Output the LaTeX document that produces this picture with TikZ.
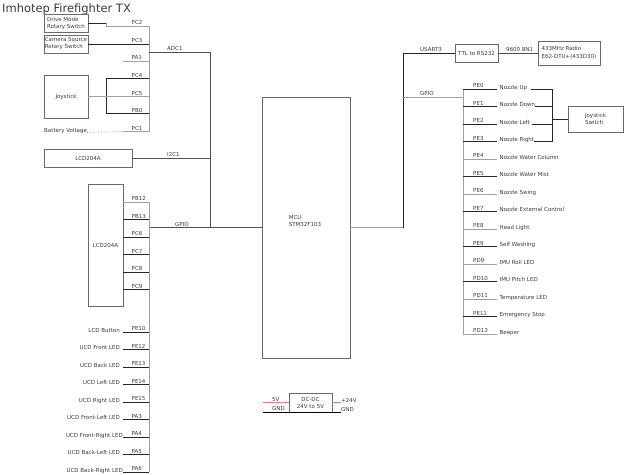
\documentclass[tikz,border=0pt]{standalone}
\usepackage{fontspec}
\setmainfont{DejaVu Sans}
\definecolor{txtgray}{HTML}{3A3A3A}
\definecolor{linegray}{HTML}{A0A0A0}
\definecolor{darkline}{HTML}{505050}
\definecolor{boxline}{HTML}{6A6A6A}
\definecolor{pwrred}{HTML}{E37B7B}

\begin{document}
\begin{tikzpicture}[x=1pt,y=-1pt,
    every node/.style={text=txtgray,font=\fontsize{5.5}{7}\selectfont,inner sep=0pt},
    blk/.style={draw=boxline,line width=0.8pt},
    wire/.style={draw=black!85,line width=0.8pt},
    gwire/.style={draw=linegray,line width=1pt},
    dwire/.style={draw=darkline,line width=0.9pt},
    pinname/.style={anchor=base west},
    sig/.style={anchor=base west},
    desc/.style={anchor=base east}]
  \useasboundingbox (0,0) rectangle (639,474);
  \node[anchor=base west,font=\fontsize{11.5}{13}\selectfont] (title) at (2,12.5) {Imhotep Firefighter TX};

  \node[blk,minimum width=44,minimum height=18,align=left] (drive) at (66,23) {Drive Mode\\Rotary Switch};
  \node[blk,minimum width=44,minimum height=18,align=left] (camera) at (66,44) {Camera Source\\Rotary Switch};
  \node[blk,minimum width=44,minimum height=43] (joy) at (66,96.5) {Joystick};
  \node[anchor=base west] (batt) at (44,132.5) {Battery Voltage};
  \coordinate (lbA) at (149,26);
  \coordinate (lbB) at (149,131.5);
  \draw[gwire] (lbA) -- (lbB);
  \draw[wire] (drive.east) -- (106,23);
  \draw[gwire] (106,23) -- (106,26) -- (lbA);
  \draw[wire] (88,44) -- (camera.east -| lbA);
  \draw[gwire] (123,61) -- (149,61);
  \draw[wire] (149,78.5) -- (106,78.5) -- (106,113.5) -- (149,113.5);
  \draw[gwire] (joy.east) -- (joy.east -| lbA);
  \draw[linegray,line width=0.8pt,dotted] (batt.base east) -- (123,131.5);
  \draw[gwire] (123,131.5) -- (lbB);
  \node[pinname] at (131.5,24.7) {PC2};
  \node[pinname] at (131.5,42.2) {PC3};
  \node[pinname] at (131.5,59.7) {PA1};
  \node[pinname] at (131.5,77.2) {PC4};
  \node[pinname] at (131.5,95.2) {PC5};
  \node[pinname] at (131.5,112.2) {PB0};
  \node[pinname] at (131.5,130.2) {PC1};

  \coordinate (adc) at (210,52);
  \draw[dwire] (149,52) -- (adc) -- (210,227.5);
  \node[sig] at (167,50.7) {ADC1};
  \node[blk,minimum width=88,minimum height=18] (lcdtop) at (88,158) {LCD204A};
  \draw[dwire] (lcdtop.east) -- (lcdtop.east -| adc);
  \node[sig] at (167,156.5) {I2C1};

  \node[blk,minimum width=88,minimum height=261] (mcu) at (306,227.5) {};
  \node[align=left] (mculbl) at (305,221) {MCU\\STM32F103};
  \draw[dwire] (149,227.5) -- (mcu.west);
  \node[sig] at (175,226) {GPIO};

  \node[blk,minimum width=35,minimum height=122] (lcdside) at (105.5,245) {LCD204A};
  \coordinate (lbC) at (149,202);
  \coordinate (lbD) at (149,472);
  \draw[gwire] (lbC) -- (lbD);
  \draw[gwire] (lcdside.east |- lbC) -- (lbC);
  \draw[wire] (123,219.5) -- (149,219.5);
  \draw[wire] (123,237) -- (149,237);
  \draw[wire] (123,254.5) -- (149,254.5);
  \draw[wire] (123,272) -- (149,272);
  \draw[wire] (123,289.5) -- (149,289.5);
  \node[pinname] at (131.5,200.7) {PB12};
  \node[pinname] at (131.5,218.2) {PB13};
  \node[pinname] at (131.5,235.7) {PC6};
  \node[pinname] at (131.5,253.2) {PC7};
  \node[pinname] at (131.5,270.7) {PC8};
  \node[pinname] at (131.5,288.2) {PC9};

  \draw[wire] (123,332) -- (149,332);
  \draw[wire] (123,349.5) -- (149,349.5);
  \draw[wire] (123,367) -- (149,367);
  \draw[wire] (123,384.5) -- (149,384.5);
  \draw[wire] (123,402) -- (149,402);
  \draw[wire] (123,419.5) -- (149,419.5);
  \draw[wire] (123,437) -- (149,437);
  \draw[wire] (123,454.5) -- (149,454.5);
  \draw[wire] (123,472) -- (lbD);
  \node[pinname] at (131.5,330.7) {PE10};
  \node[pinname] at (131.5,348.2) {PE12};
  \node[pinname] at (131.5,365.7) {PE13};
  \node[pinname] at (131.5,383.2) {PE14};
  \node[pinname] at (131.5,400.7) {PE15};
  \node[pinname] at (131.5,418.2) {PA3};
  \node[pinname] at (131.5,435.7) {PA4};
  \node[pinname] at (131.5,453.2) {PA5};
  \node[pinname] at (131.5,470.7) {PA6};
  \node[desc] at (120,332.3) {LCD Button};
  \node[desc] at (120,349.8) {UCD Front LED};
  \node[desc] at (120,367.3) {UCD Back LED};
  \node[desc] at (120,384.8) {UCD Left LED};
  \node[desc] at (120,402.3) {UCD Right LED};
  \node[desc] at (120,419.8) {UCD Front-Left LED};
  \node[desc] at (123,437.3) {UCD Front-Right LED};
  \node[desc] at (120,454.8) {UCD Back-Left LED};
  \node[desc] at (123,472.3) {UCD Back-Right LED};

  \node[blk,minimum width=43,minimum height=18] (ttl) at (476.5,53) {TTL to RS232};
  \node[blk,minimum width=62,minimum height=24,align=left,font=\fontsize{5.5}{8}\selectfont] (radio) at (569,53) {433MHz Radio\\E62-DTU+(433D30)};
  \coordinate (rjA) at (403,53);
  \draw[gwire] (mcu.east) -- (403,227.5);
  \draw[wire] (403,227.5) -- (rjA) -- (ttl.west);
  \node[sig] at (420,51.5) {USART3};
  \draw[dwire] (ttl.east) -- (radio.west);
  \node[sig] at (506,51) {9600 8N1};
  \draw[gwire] (403,97) -- (463,97);
  \node[sig] at (420,95) {GPIO};

  \coordinate (rbA) at (463,89);
  \coordinate (rbB) at (463,334);
  \draw[gwire] (rbA) -- (rbB);
  \draw[wire] (rbA) -- (497,89);
  \draw[wire] (463,106.5) -- (497,106.5);
  \draw[wire] (463,124) -- (497,124);
  \draw[wire] (463,141.5) -- (497,141.5);
  \draw[gwire] (463,159) -- (497,159);
  \draw[wire] (463,176.5) -- (497,176.5);
  \draw[gwire] (463,194) -- (497,194);
  \draw[wire] (463,211.5) -- (497,211.5);
  \draw[gwire] (463,229) -- (497,229);
  \draw[wire] (463,246.5) -- (497,246.5);
  \draw[gwire] (463,264) -- (497,264);
  \draw[wire] (463,281.5) -- (497,281.5);
  \draw[gwire] (463,299) -- (497,299);
  \draw[wire] (463,316.5) -- (497,316.5);
  \draw[gwire] (rbB) -- (497,334);
  \node[pinname] at (473,87.7) {PE0};
  \node[pinname] at (473,105.2) {PE1};
  \node[pinname] at (473,122.7) {PE2};
  \node[pinname] at (473,140.2) {PE3};
  \node[pinname] at (473,157.7) {PE4};
  \node[pinname] at (473,175.2) {PE5};
  \node[pinname] at (473,192.7) {PE6};
  \node[pinname] at (473,210.2) {PE7};
  \node[pinname] at (473,227.7) {PE8};
  \node[pinname] at (473,245.2) {PE9};
  \node[pinname] at (473,262.7) {PD9};
  \node[pinname] at (473,280.2) {PD10};
  \node[pinname] at (473,297.7) {PD11};
  \node[pinname] at (473,315.2) {PE11};
  \node[pinname] at (473,332.7) {PD13};
  \node[sig] (nzup) at (499.5,89.3) {Nozzle Up};
  \node[sig] (nzdn) at (499.5,106.8) {Nozzle Down};
  \node[sig] (nzlt) at (499.5,124.3) {Nozzle Left};
  \node[sig] (nzrt) at (499.5,141.8) {Nozzle Right};
  \node[sig] at (499.5,159.3) {Nozzle Water Column};
  \node[sig] at (499.5,176.8) {Nozzle Water Mist};
  \node[sig] at (499.5,194.3) {Nozzle Swing};
  \node[sig] at (499.5,211.8) {Nozzle External Control};
  \node[sig] at (499.5,229.3) {Head Light};
  \node[sig] at (499.5,246.8) {Self Washing};
  \node[sig] at (499.5,264.3) {IMU Roll LED};
  \node[sig] at (499.5,281.8) {IMU Pitch LED};
  \node[sig] at (499.5,299.3) {Temperature LED};
  \node[sig] at (499.5,316.8) {Emergency Stop};
  \node[sig] at (499.5,334.3) {Beeper};

  \node[blk,minimum width=55,minimum height=26,align=left] (jsw) at (595.5,119) {Joystick\\Switch};
  \coordinate (jsA) at (552,89);
  \coordinate (jsB) at (552,141.5);
  \draw[wire] (jsA) -- (jsB);
  \draw[wire] ([xshift=4pt]nzup.base east) -- (nzup.base east -| jsA);
  \draw[wire] (nzdn.base east) -- (nzdn.base east -| jsA);
  \draw[wire] ([xshift=2pt]nzlt.base east) -- (nzlt.base east -| jsA);
  \draw[wire] (nzrt.base east) -- (nzrt.base east -| jsA);
  \draw[wire] (jsw.west -| jsA) -- (jsw.west);

  \node[blk,minimum width=43,minimum height=19,align=center] (dcdc) at (310.5,402.5) {DC-DC\\24V to 5V};
  \coordinate (pwrL) at (263,402.5);
  \coordinate (gndL) at (263,412);
  \coordinate (pwrR) at (341,402.5);
  \coordinate (gndR) at (341,412);
  \draw[pwrred,line width=0.9pt] (pwrL) -- (dcdc.west);
  \draw[pwrred,line width=0.9pt] (dcdc.east) -- (pwrR);
  \draw[black,line width=0.9pt] (gndL) -- (gndR);
  \node[sig] at (272,401) {5V};
  \node[sig] at (272,410) {GND};
  \node[sig] at (341,402.5) {+24V};
  \node[sig] at (341,411.5) {GND};
\end{tikzpicture}
\end{document}
